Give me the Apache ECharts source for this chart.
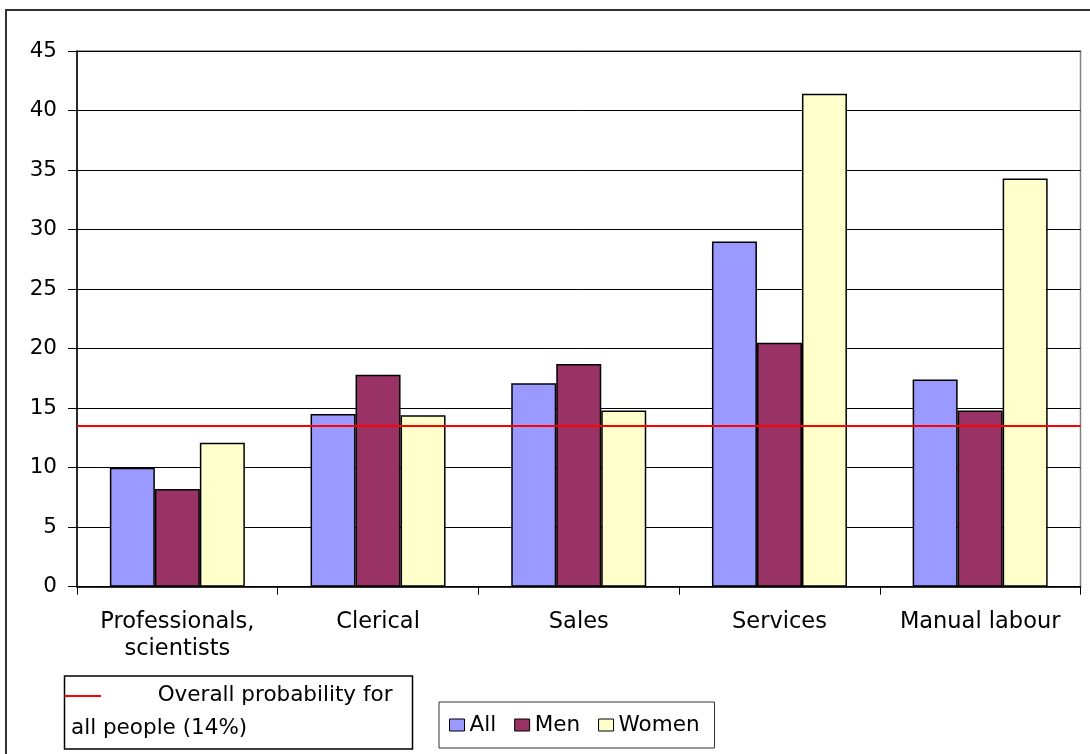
<!DOCTYPE html>
<html>
<head>
<meta charset="utf-8">
<title>Probability by occupation</title>
<script src="https://cdn.jsdelivr.net/npm/echarts@6/dist/echarts.min.js"></script>
<style>
	html, body { margin: 0; padding: 0; background: #fff; }
	#resultChart { width: 1090px; height: 754px; }
</style>
</head>
<body>
<div id="resultChart"></div>
<script>
// 数据
var categories = ['Professionals,\nscientists', 'Clerical', 'Sales', 'Services', 'Manual labour'];
var seriesNames = ['All', 'Men', 'Women'];
var allValues = [10.0, 14.5, 17.1, 29.0, 17.4];
var menValues = [8.2, 17.8, 18.7, 20.5, 14.8];
var womenValues = [12.1, 14.4, 14.8, 41.4, 34.3];
var overallLevel = [13.5];
var overallLabel = ['Overall probability for', 'all people (14%)'];
var yTicks = { min: 0, max: 45, interval: 5 };

var FONT = 'DejaVu Sans';
var FSIZE = 21.5;

function getChart() {
	var myChart = echarts.init(document.getElementById('resultChart'), null, { renderer: 'canvas' });
	var barStyle = function (color) {
		return {
			color: color,
			borderColor: '#000',
			borderWidth: 1.5
		};
	};
	var option = {
		backgroundColor: '#fff',
		animation: false,
		textStyle: { fontFamily: FONT },
		grid: {
			left: 77,
			top: 51,
			width: 1003.5,
			height: 535.7,
			containLabel: false,
			outerBoundsMode: 'none',
			show: true,
			borderColor: '#808080',
			borderWidth: 1.5
		},
		legend: {
			data: seriesNames,
			left: 439,
			top: 702,
			orient: 'horizontal',
			padding: [12, 15, 12, 10],
			itemWidth: 15,
			itemHeight: 12,
			itemGap: 18,
			icon: 'rect',
			borderColor: '#333',
			borderWidth: 1,
			itemStyle: { borderColor: '#000', borderWidth: 1 },
			textStyle: { fontFamily: FONT, fontSize: FSIZE, color: '#000' }
		},
		xAxis: {
			type: 'category',
			data: categories,
			axisLine: { show: true, lineStyle: { color: '#000', width: 1.5 } },
			axisTick: { show: true, length: 8, alignWithLabel: false, lineStyle: { color: '#000' } },
			axisLabel: {
				margin: 22,
				color: '#000',
				fontFamily: FONT,
				fontSize: 22.5,
				lineHeight: 27,
				interval: 0
			},
			splitLine: { show: false }
		},
		yAxis: {
			type: 'value',
			min: yTicks.min,
			max: yTicks.max,
			interval: yTicks.interval,
			axisLine: { show: true, lineStyle: { color: '#000', width: 1.5 } },
			axisTick: { show: true, length: 9, lineStyle: { color: '#000' } },
			axisLabel: { margin: 20, color: '#000', fontFamily: FONT, fontSize: FSIZE },
			splitLine: { show: true, lineStyle: { color: '#000', width: 1 } }
		},
		series: [{
			name: seriesNames[0],
			type: 'bar',
			data: allValues,
			barWidth: 45,
			barGap: '0%',
			itemStyle: barStyle('#9999FF'),
			markLine: {
				silent: true,
				symbol: ['none', 'none'],
				label: { show: false },
				lineStyle: { color: '#FF0000', width: 2, type: 'solid' },
				data: [{ yAxis: overallLevel[0] }],
				z: 10
			}
		}, {
			name: seriesNames[1],
			type: 'bar',
			data: menValues,
			barWidth: 45,
			barGap: '0%',
			itemStyle: barStyle('#993366')
		}, {
			name: seriesNames[2],
			type: 'bar',
			data: womenValues,
			barWidth: 45,
			barGap: '0%',
			itemStyle: barStyle('#FFFFCC')
		}],
		graphic: [{
			// 外边框
			type: 'rect',
			shape: { x: 6, y: 10, width: 1200, height: 800 },
			style: { fill: 'none', stroke: '#333', lineWidth: 2 },
			silent: true
		}, {
			// 红线图例
			type: 'group',
			silent: true,
			children: [{
				type: 'rect',
				shape: { x: 64.5, y: 676, width: 348, height: 73 },
				style: { fill: '#fff', stroke: '#000', lineWidth: 1.5 }
			}, {
				type: 'line',
				shape: { x1: 64.5, y1: 696, x2: 101, y2: 696 },
				style: { stroke: '#FF0000', lineWidth: 2 }
			}, {
				type: 'text',
				x: 157.7,
				y: 695.5,
				style: {
					text: overallLabel[0],
					fill: '#000',
					font: FSIZE + 'px "' + FONT + '"',
					verticalAlign: 'middle'
				}
			}, {
				type: 'text',
				x: 71,
				y: 728,
				style: {
					text: overallLabel[1],
					fill: '#000',
					font: FSIZE + 'px "' + FONT + '"',
					verticalAlign: 'middle'
				}
			}]
		}]
	};
	myChart.setOption(option);
}

getChart();
</script>
</body>
</html>
